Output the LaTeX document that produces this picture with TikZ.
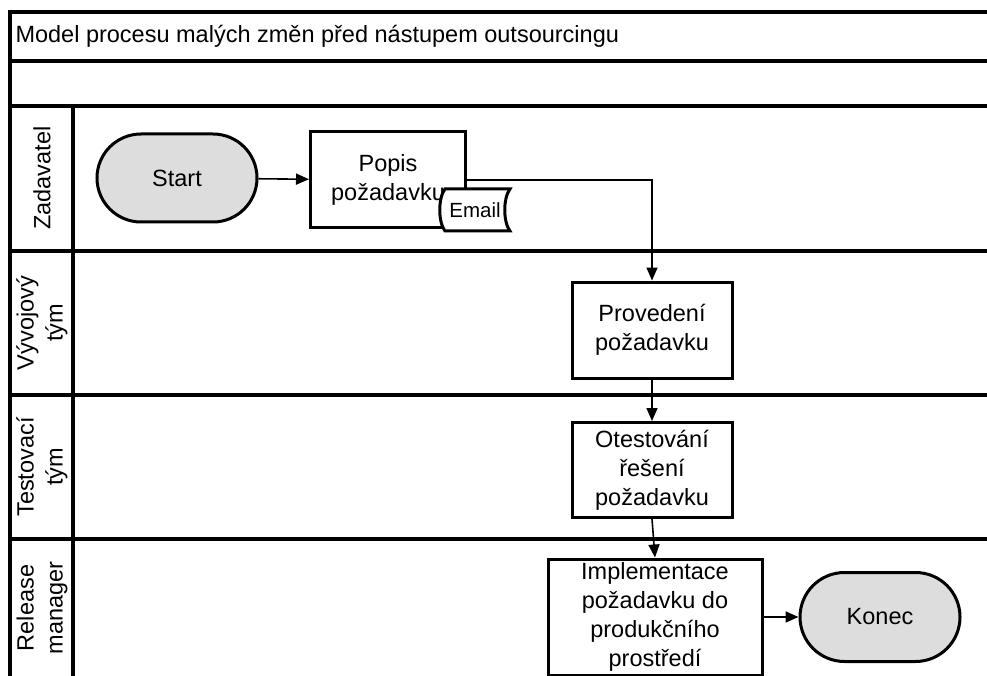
\documentclass[tikz,border=0pt]{standalone}
\usepackage{fontspec}
\setmainfont{Liberation Sans}
\usetikzlibrary{arrows.meta,shapes.misc}
\definecolor{termfill}{RGB}{221,221,221}
\tikzset{
  frame/.style={line width=3.5pt},
  task/.style={draw, line width=3pt, fill=white, align=center, inner sep=0pt},
  term/.style={draw, line width=3pt, fill=termfill, rounded rectangle, inner sep=0pt},
  conn/.style={line width=1.6pt, -{Triangle[length=13pt,width=11pt]}},
  lanelabel/.style={rotate=90, align=center},
  txt/.style={font=\fontsize{23.5}{29}\selectfont}
}
\begin{document}
\begin{tikzpicture}[x=1pt,y=-1pt,every node/.style={txt}]
\useasboundingbox (0,0) rectangle (987,676);
\fill[white] (0,0) rectangle (987,676);

% pool frame, header rows and lane separators
\draw[frame] (10,676) -- (10,12) -- (987,12);
\draw[frame] (10,61) -- (987,61);
\draw[frame] (10,106) -- (987,106);
\draw[frame] (73,106) -- (73,676);
\draw[frame] (10,251) -- (987,251);
\draw[frame] (10,395) -- (987,395);
\draw[frame] (10,539) -- (987,539);

% header title
\node[anchor=west] (title) at (12,36) {Model procesu malých změn před nástupem outsourcingu};

% lane names
\node[lanelabel] (lane1) at (42,178) {Zadavatel};
\node[lanelabel] (lane2) at (42,323) {Vývojový\\tým};
\node[lanelabel] (lane3) at (42,467) {Testovací\\tým};
\node[lanelabel] (lane4) at (42,608) {Release\\manager};

% process steps
\node[term, minimum width=160pt, minimum height=88pt] (start) at (177,178) {Start};
\node[task, minimum width=155pt, minimum height=96pt] (popis) at (388,180) {Popis\\požadavku};
\node[task, minimum width=160pt, minimum height=96pt] (prov) at (652,330) {Provedení\\požadavku};
\node[task, minimum width=160pt, minimum height=95pt] (otest) at (652,470) {Otestování\\řešení\\požadavku};
\node[task, minimum width=214pt, minimum height=116pt] (impl) at (655,617) {Implementace\\požadavku do\\produkčního\\prostředí};
\node[term, minimum width=160pt, minimum height=89pt] (konec) at (880,617) {Konec};

% e-mail document attached to the request description
\draw[line width=3pt, fill=white]
  (445,189) -- (510,189) .. controls (503,198) and (503,222) .. (510,231)
  -- (445,231) .. controls (438,222) and (438,198) .. (445,189) -- cycle;
\node[font=\fontsize{20.5}{24}\selectfont] (email) at (475,210) {Email};

% flow
\draw[conn] (start) -- (popis);
\draw[conn] (popis.east) -| (prov.north);
\draw[conn] (prov) -- (otest);
\draw[conn] (otest.south) -- (impl.north);
\draw[conn] (impl) -- (konec);
\end{tikzpicture}
\end{document}
